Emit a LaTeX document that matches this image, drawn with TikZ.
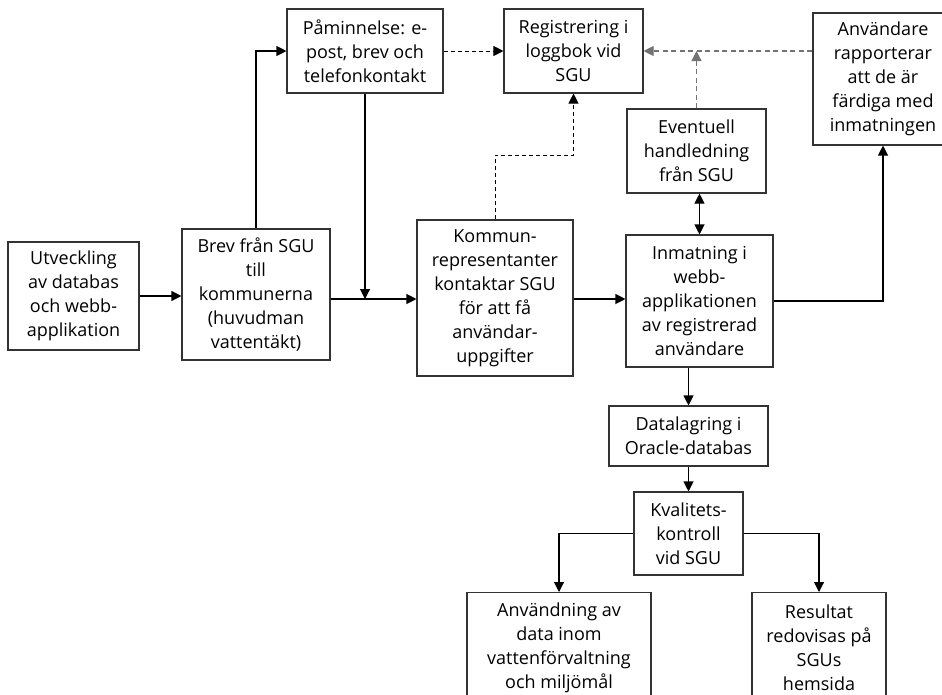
\documentclass[tikz,border=0pt]{standalone}
\usepackage{fontspec}
\setmainfont{Open Sans}
\usetikzlibrary{arrows.meta}
\tikzset{
  box/.style={draw=black!80, line width=1.1pt, align=center, inner sep=0pt,
    font=\fontsize{18}{24}\selectfont},
  pil/.style={line width=1.1pt, -{Triangle[length=10pt,width=10pt]}},
  streck/.style={pil, line width=0.9pt, dash pattern=on 4pt off 3pt},
  gra/.style={pil, black!55, dash pattern=on 5pt off 3.5pt}
}
\begin{document}
\begin{tikzpicture}[x=1pt,y=-1pt]
                \useasboundingbox (0,0) rectangle (942,694);
                \node [box, minimum width=131, minimum height=108] (utv) at (73.5,296) {Utveckling\\av databas\\och webb-\\applikation} ;
                \node [box, minimum width=148, minimum height=131] (brev) at (256,294.5) {Brev från SGU\\till\\kommunerna\\(huvudman\\vattentäkt)} ;
                \node [box, minimum width=156, minimum height=84] (pam) at (365,51) {Påminnelse: e-\\post, brev och\\telefonkontakt} ;
                \node [box, minimum width=156, minimum height=156] (kom) at (495,298) {Kommun-\\representanter\\kontaktar SGU\\för att få\\användar-\\uppgifter} ;
                \node [box, minimum width=139, minimum height=84] (reg) at (573.5,51) {Registrering i\\loggbok vid\\SGU} ;
                \node [box, minimum width=140, minimum height=132] (anv) at (883,79) {Användare\\rapporterar\\att de är\\färdiga med\\inmatningen} ;
                \node [box, minimum width=139, minimum height=84] (evt) at (696.5,151) {Eventuell\\handledning\\från SGU} ;
                \node [box, minimum width=147, minimum height=132] (inm) at (699.5,301) {Inmatning i\\webb-\\applikationen\\av registrerad\\användare} ;
                \node [box, minimum width=159, minimum height=60] (dat) at (688.5,436) {Datalagring i\\Oracle-databas} ;
                \node [box, minimum width=109, minimum height=83] (kva) at (688.5,533.5) {Kvalitets-\\kontroll\\vid SGU} ;
                \node [box, minimum width=184, minimum height=110, anchor=north] (anvd) at (559,592) {Användning av\\data inom\\vattenförvaltning\\och miljömål} ;
                \node [box, minimum width=134, minimum height=110, anchor=north] (res) at (819,592) {Resultat\\redovisas på\\SGUs\\hemsida} ;
                \coordinate (knut) at (365,299) ;
                % heldragna pilar
                \draw [pil] (utv.east) -- (utv.east -| brev.west) ;
                \draw [pil] (brev.north) |- (pam.west) ;
                \draw [pil] (pam.south) -- (knut) ;
                \draw [pil] (brev.east |- knut) -- (kom.west |- knut) ;
                \draw [pil] (kom.east |- knut) -- (inm.west |- knut) ;
                \draw [pil] (inm.east) -| (anv.south) ;
                \draw [pil, {Triangle[length=10pt,width=10pt]}-{Triangle[length=10pt,width=10pt]}] (inm.north) -- (inm.north |- evt.south) ;
                \draw [pil] (dat.north |- inm.south) -- (dat.north) ;
                \draw [pil] (dat.south) -- (kva.north) ;
                \draw [pil] (kva.west) -| (anvd.north) ;
                \draw [pil] (kva.east) -| (res.north) ;
                % streckade pilar
                \draw [streck] (pam.east) -- (reg.west) ;
                \draw [streck] (kom.north) -- ++(0,-64) -| (reg.south) ;
                \draw [gra] (anv.west |- reg.east) -- (reg.east) ;
                \draw [gra] (evt.north) -- (evt.north |- reg.east) ;
\end{tikzpicture}
\end{document}
